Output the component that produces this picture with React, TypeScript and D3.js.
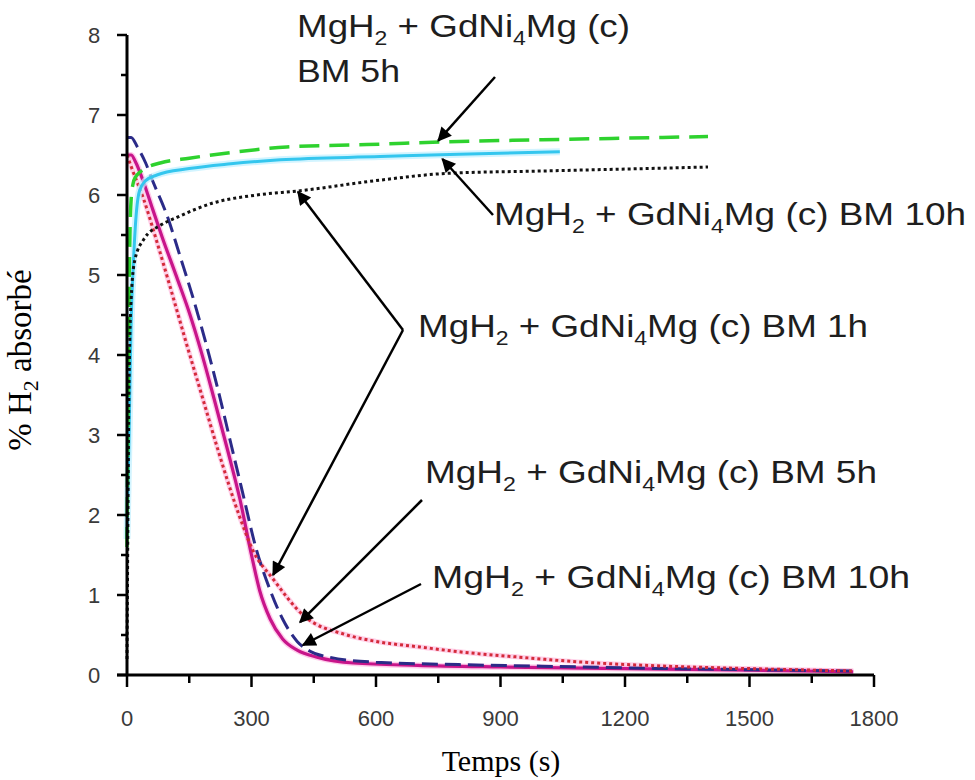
import React from "react";
import * as d3 from "d3";

// ---- data (time in s, % H2) ----
const absGreenT = [0, 2, 4, 7, 10, 15, 20, 30, 50, 80, 150, 250, 385, 578, 800, 1000, 1291, 1400];
const absGreenV = [1.6, 3.0, 4.4, 5.5, 5.95, 6.15, 6.22, 6.28, 6.35, 6.4, 6.46, 6.53, 6.6, 6.63, 6.67, 6.69, 6.72, 6.73];

const absCyanT = [0, 3, 5, 8, 10, 15, 20, 30, 45, 72, 150, 250, 369, 610, 800, 1043];
const absCyanV = [1.7, 2.5, 3.0, 3.9, 4.4, 5.1, 5.6, 6.05, 6.18, 6.25, 6.33, 6.39, 6.44, 6.48, 6.51, 6.54];

const absBlackT = [0, 2, 4, 6, 10, 19, 41, 80, 120, 207, 313, 412, 600, 771, 1000, 1325, 1400];
const absBlackV = [0.2, 1.8, 3.2, 4.0, 4.7, 5.19, 5.45, 5.62, 5.72, 5.9, 6.0, 6.05, 6.18, 6.27, 6.3, 6.34, 6.35];

const desRedT = [0, 14, 40, 70, 104, 140, 180, 220, 272, 304, 352, 424, 530, 600, 706, 800, 930, 1100, 1300, 1500, 1750];
const desRedV = [6.5, 6.3, 5.95, 5.45, 4.85, 4.2, 3.5, 2.8, 1.97, 1.55, 1.2, 0.75, 0.5, 0.42, 0.35, 0.29, 0.23, 0.16, 0.11, 0.08, 0.05];

const desNavyT = [0, 10, 25, 45, 60, 96, 130, 160, 190, 220, 250, 280, 310, 345, 375, 410, 440, 490, 600, 800, 1000, 1300, 1600, 1750];
const desNavyV = [6.72, 6.72, 6.6, 6.4, 6.2, 5.75, 5.2, 4.7, 4.15, 3.55, 2.9, 2.25, 1.6, 1.06, 0.7, 0.42, 0.3, 0.22, 0.16, 0.13, 0.11, 0.08, 0.06, 0.05];

const desMagT = [0, 10, 20, 40, 60, 85, 120, 152, 180, 210, 243, 272, 300, 320, 345, 375, 410, 460, 545, 700, 900, 1200, 1500, 1750];
const desMagV = [6.5, 6.5, 6.42, 6.16, 5.85, 5.47, 4.97, 4.5, 4.02, 3.45, 2.8, 2.2, 1.5, 1.05, 0.7, 0.45, 0.31, 0.22, 0.15, 0.12, 0.1, 0.08, 0.06, 0.04];

const xTicks = [0, 300, 600, 900, 1200, 1500, 1800];
const xMinor = [150, 450, 750, 1050, 1350, 1650];
const yTicks = [0, 1, 2, 3, 4, 5, 6, 7, 8];
const yMinor = [0.5, 1.5, 2.5, 3.5, 4.5, 5.5, 6.5, 7.5];

const xTitle = "Temps (s)";
const yTitle = "% H";
const yTitleTail = " absorbé";

// annotation arrow tips in data units (t, value)
const tipTop5h = [750, 6.68];
const tipTop10h = [760, 6.45];
const tip1hUp = [412, 6.04];
const tip1hDown = [352, 1.25];
const tipLow5h = [417, 0.66];
const tipLow10h = [424, 0.375];

const W = 975, H = 780;
const x = d3.scaleLinear().domain([0, 1800]).range([127, 874]);
const y = d3.scaleLinear().domain([0, 8]).range([675, 35]);

const line = d3.line<[number, number]>()
  .x(d => x(d[0]))
  .y(d => y(d[1]))
  .curve(d3.curveMonotoneX);

const zip = (t: number[], v: number[]) => t.map((tt, i) => [tt, v[i]] as [number, number]);

function Label({ px, py, width, tail }: { px: number; py: number; width: number; tail: string }) {
  return (
    <text x={px} y={py} fontFamily="Liberation Sans, Arial, sans-serif" fontSize={32} fill="#1e1e1e"
      textLength={width} lengthAdjust="spacingAndGlyphs">
      MgH<tspan fontSize={20} dy={8}>2</tspan><tspan dy={-8}> + GdNi</tspan><tspan fontSize={20} dy={8}>4</tspan><tspan dy={-8}>{"Mg (c)" + tail}</tspan>
    </text>
  );
}

export default function App() {
  const arrow = (x1: number, y1: number, tip: number[]) => (
    <line x1={x1} y1={y1} x2={x(tip[0])} y2={y(tip[1])} stroke="#000" strokeWidth={2.5} markerEnd="url(#ah)" />
  );
  return (
    <svg width={W} height={H} style={{ position: "absolute", left: 0, top: 0, background: "#fff" }}
      xmlns="http://www.w3.org/2000/svg">
      <defs>
        <marker id="ah" viewBox="0 0 10 10" refX="9" refY="5" markerWidth="16" markerHeight="14"
          markerUnits="userSpaceOnUse" orient="auto">
          <path d="M0,0 L10,5 L0,10 z" fill="#000" />
        </marker>
      </defs>
      <rect width={W} height={H} fill="#fff" />

      {/* curves */}
      <path d={line(zip(desRedT, desRedV)) || ""} fill="none" stroke="#ffb0d8" strokeWidth={5} opacity={0.6} />
      <path d={line(zip(desMagT, desMagV)) || ""} fill="none" stroke="#ff9ad8" strokeWidth={6} opacity={0.5} />
      <path d={line(zip(desMagT, desMagV)) || ""} fill="none" stroke="#c8158a" strokeWidth={3.2} />
      <path d={line(zip(desNavyT, desNavyV)) || ""} fill="none" stroke="#2b2b88" strokeWidth={3} strokeDasharray="16 7" />
      <path d={line(zip(desRedT, desRedV)) || ""} fill="none" stroke="#d42a3a" strokeWidth={3} strokeDasharray="3 3" />
      <path d={line(zip(absCyanT, absCyanV)) || ""} fill="none" stroke="#bff0ff" strokeWidth={7} opacity={0.7} />
      <path d={line(zip(absCyanT, absCyanV)) || ""} fill="none" stroke="#34c6ee" strokeWidth={3} />
      <path d={line(zip(absGreenT, absGreenV)) || ""} fill="none" stroke="#2ed22e" strokeWidth={3.5} strokeDasharray="20 10" />
      <path d={line(zip(absBlackT, absBlackV)) || ""} fill="none" stroke="#111" strokeWidth={3} strokeDasharray="3 3" />

      {/* axes */}
      <line x1={x(0)} y1={y(8)} x2={x(0)} y2={y(0)} stroke="#000" strokeWidth={3} />
      <line x1={x(0) - 10} y1={y(0)} x2={x(1800)} y2={y(0)} stroke="#000" strokeWidth={3} />
      {yTicks.map(v => (
        <g key={"yt" + v}>
          <line x1={x(0) - 10} x2={x(0)} y1={y(v)} y2={y(v)} stroke="#000" strokeWidth={2.5} />
          <text x={94} y={y(v) + 8} textAnchor="middle" fontFamily="Liberation Sans, Arial, sans-serif" fontSize={22} fill="#3a3a3a">{v}</text>
        </g>
      ))}
      {yMinor.map(v => (
        <line key={"ym" + v} x1={x(0) - 6} x2={x(0)} y1={y(v)} y2={y(v)} stroke="#000" strokeWidth={2.5} />
      ))}
      {xTicks.map(t => (
        <g key={"xt" + t}>
          <line x1={x(t)} x2={x(t)} y1={y(0)} y2={y(0) + 12} stroke="#000" strokeWidth={2.5} />
          <text x={x(t)} y={726} textAnchor="middle" fontFamily="Liberation Sans, Arial, sans-serif" fontSize={22} fill="#3a3a3a">{t}</text>
        </g>
      ))}
      {xMinor.map(t => (
        <line key={"xm" + t} x1={x(t)} x2={x(t)} y1={y(0)} y2={y(0) + 8} stroke="#000" strokeWidth={2.5} />
      ))}

      {/* titles */}
      <text x={501} y={771} textAnchor="middle" fontFamily="Liberation Serif, Times New Roman, serif" fontSize={30} fill="#000">{xTitle}</text>
      <text transform="translate(31,360) rotate(-90)" textAnchor="middle" fontFamily="Liberation Serif, Times New Roman, serif" fontSize={33} fill="#000">
        {yTitle}<tspan fontSize={22} dy={7}>2</tspan><tspan dy={-7}>{yTitleTail}</tspan>
      </text>

      {/* annotations */}
      <Label px={297} py={37} width={333} tail="" />
      <text x={297} y={82} fontFamily="Liberation Sans, Arial, sans-serif" fontSize={32} fill="#1e1e1e" textLength={103} lengthAdjust="spacingAndGlyphs">BM 5h</text>
      {arrow(495, 77, tipTop5h)}

      <Label px={494} py={225} width={472} tail=" BM 10h" />
      {arrow(493, 215, tipTop10h)}

      <Label px={418} py={337} width={450} tail=" BM 1h" />
      {arrow(403, 330, tip1hUp)}
      {arrow(403, 330, tip1hDown)}

      <Label px={425} py={483} width={452} tail=" BM 5h" />
      {arrow(422, 500, tipLow5h)}

      <Label px={432} py={588} width={478} tail=" BM 10h" />
      {arrow(421, 584, tipLow10h)}
    </svg>
  );
}
